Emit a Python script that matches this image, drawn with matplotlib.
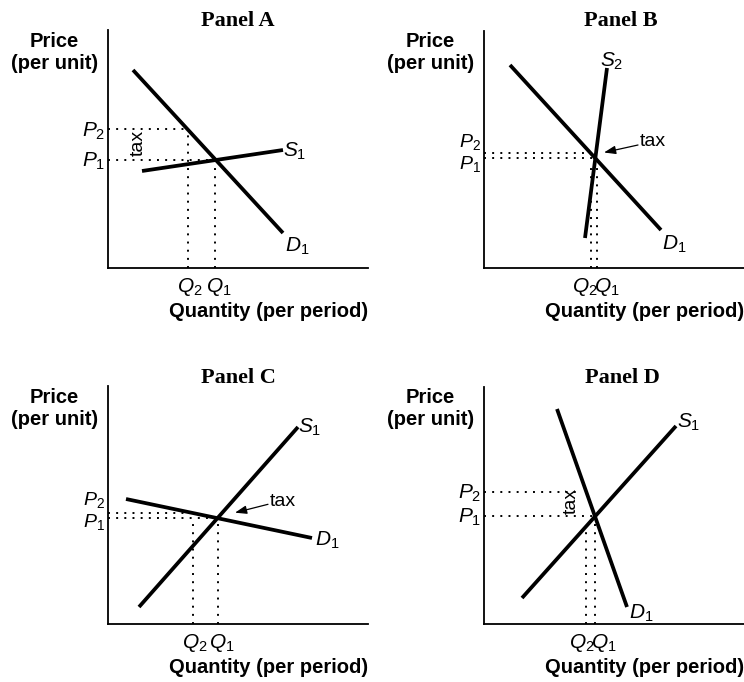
import matplotlib
matplotlib.use("Agg")
import matplotlib.pyplot as plt

plt.rcParams['font.family'] = ['Liberation Sans', 'DejaVu Sans']
plt.rcParams['mathtext.fontset'] = 'custom'
plt.rcParams['mathtext.it'] = 'Liberation Sans:italic'
plt.rcParams['mathtext.rm'] = 'Liberation Sans'

# panel names
panels = ['A', 'B', 'C', 'D']

# demand lines (quantity, price) end points, per panel
demand_q = {'A': [25, 175], 'B': [26, 177], 'C': [18, 204], 'D': [73, 143]}
demand_p = {'A': [198, 35], 'B': [203, 38], 'C': [125, 86], 'D': [215, 17]}

# supply lines
supply_q = {'A': [34, 175], 'B': [101, 123], 'C': [31, 190], 'D': [38, 192]}
supply_p = {'A': [97, 118], 'B': [30, 200], 'C': [17, 197], 'D': [26, 198]}
supply_name = {'A': '$S_1$', 'B': '$S_2$', 'C': '$S_1$', 'D': '$S_1$'}

# equilibrium levels before / after the tax
p1 = {'A': 108, 'B': 110, 'C': 106, 'D': 108}
p2 = {'A': 139, 'B': 115, 'C': 111, 'D': 132}
q1 = {'A': 107, 'B': 113, 'C': 110, 'D': 111}
q2 = {'A': 80, 'B': 107, 'C': 85, 'D': 102}
# where the dotted lines stop
p2_end = {'A': 80, 'B': 108, 'C': 85, 'D': 97}
q2_top = {'A': 139, 'B': 101, 'C': 104, 'D': 94}

# label placement
p2_lab = {'A': 131, 'B': 121, 'C': 119, 'D': 125}
p1_lab = {'A': 101, 'B': 99, 'C': 97, 'D': 101}
p_size = {'A': 15, 'B': 14, 'C': 14, 'D': 15}
s_off = {'A': (0, -7), 'B': (5, 1), 'C': (0, -6), 'D': (1, -2)}
d_off = {'A': (2, -19), 'B': (1, -20), 'C': (3, -8), 'D': (2, -12)}

# axes boxes in pixels (left, axis y, width, height)
W, H = 744, 682
boxes = {'A': (108, 268, 260, 238), 'B': (484, 268, 260, 237),
         'C': (108, 624, 260, 238), 'D': (484, 624, 260, 237)}
title_x = {'A': 130, 'B': 137, 'C': 130, 'D': 138}
title_y = {'A': 242, 'B': 242, 'C': 241, 'D': 241}

fig = plt.figure(figsize=(W / 100, H / 100), dpi=100)

dot = dict(color='black', lw=1.4, linestyle=(0, (1, 3.2)))
thick = dict(color='black', lw=2.7, solid_capstyle='butt')
arrow = dict(arrowstyle='-|>,head_length=0.7,head_width=0.25', color='black',
             lw=0.9, shrinkA=0, shrinkB=0)
it = 15

for name in panels:
    left, base, w, h = boxes[name]
    ax = fig.add_axes([left / W, (H - base) / H, w / W, h / H])
    ax.set_xlim(0, w)
    ax.set_ylim(0, h)
    ax.patch.set_alpha(0)
    for s in ['top', 'right']:
        ax.spines[s].set_visible(False)
    ax.spines['left'].set_linewidth(1.3)
    ax.spines['bottom'].set_linewidth(1.3)
    ax.set_xticks([])
    ax.set_yticks([])

    # dotted guides
    ax.plot([0, p2_end[name]], [p2[name], p2[name]], **dot)
    ax.plot([0, q1[name]], [p1[name], p1[name]], **dot)
    ax.plot([q2[name], q2[name]], [0, q2_top[name]], **dot)
    ax.plot([q1[name], q1[name]], [0, p1[name]], **dot)

    # curves
    ax.plot(demand_q[name], demand_p[name], **thick)
    ax.plot(supply_q[name], supply_p[name], **thick)

    # curve labels
    ax.text(demand_q[name][1] + d_off[name][0], demand_p[name][1] + d_off[name][1],
            '$D_1$', fontsize=it, ha='left', va='baseline', clip_on=False)
    ax.text(supply_q[name][1] + s_off[name][0], supply_p[name][1] + s_off[name][1],
            supply_name[name], fontsize=it, ha='left' if name != 'B' else 'center',
            va='baseline', clip_on=False)

    # price / quantity labels
    ax.text(-3, p2_lab[name], '$P_2$', fontsize=p_size[name], ha='right',
            va='baseline', clip_on=False)
    ax.text(-3, p1_lab[name], '$P_1$', fontsize=p_size[name], ha='right',
            va='baseline', clip_on=False)
    if name in ['B', 'D']:
        ax.text((q1[name] + q2[name]) / 2 + 2, -24, r'$Q_2\!Q_1$', fontsize=it,
                ha='center', va='baseline', clip_on=False)
    else:
        ax.text(q2[name] + 2, -24, '$Q_2$', fontsize=it, ha='center',
                va='baseline', clip_on=False)
        ax.text(q1[name] + 4, -24, '$Q_1$', fontsize=it, ha='center',
                va='baseline', clip_on=False)

    ax.text(w, -49, 'Quantity (per period)', fontsize=14.5, fontweight='bold',
            ha='right', va='baseline', clip_on=False)
    ax.text(-54, 221, 'Price', fontsize=14.5, fontweight='bold',
            ha='center', va='baseline', clip_on=False)
    ax.text(-53, 199, '(per unit)', fontsize=14.5, fontweight='bold',
            ha='center', va='baseline', clip_on=False)
    ax.text(title_x[name], title_y[name], 'Panel ' + name, fontsize=16,
            fontweight='bold', family='Liberation Serif', ha='center',
            va='baseline', clip_on=False)

    # tax marker
    if name == 'A':
        ax.text(30.5, 125, 'tax', fontsize=14, rotation=90, ha='center', va='center')
    elif name == 'D':
        ax.text(87.5, 123, 'tax', fontsize=14, rotation=90, ha='center', va='center')
    elif name == 'B':
        ax.annotate('', xy=(120, 115.5), xytext=(154, 123), arrowprops=arrow)
        ax.text(156, 126, 'tax', fontsize=14, ha='left', va='center')
    else:
        ax.annotate('', xy=(127, 111.3), xytext=(160, 119.7), arrowprops=arrow)
        ax.text(162, 122, 'tax', fontsize=14, ha='left', va='center')

fig.savefig('out.png', dpi=100)
